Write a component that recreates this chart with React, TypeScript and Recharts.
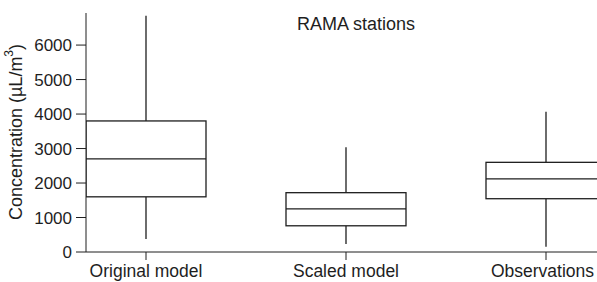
import { ComposedChart, Bar, XAxis, YAxis } from 'recharts';

// box plot stats (µL/m³)
const categories = ['Original model', 'Scaled model', 'Observations'];
const whiskerLow = [380, 230, 150];
const quartile1 = [1600, 760, 1545];
const medians = [2700, 1250, 2120];
const quartile3 = [3800, 1720, 2600];
const whiskerHigh = [6850, 3040, 4070];
const yTicks = [0, 1000, 2000, 3000, 4000, 5000, 6000];

const data = categories.map((name, i) => ({
  x: i,
  name,
  min: whiskerLow[i],
  q1: quartile1[i],
  median: medians[i],
  q3: quartile3[i],
  max: whiskerHigh[i],
}));

const INK = '#1e1e1e';
const FONT = '"Liberation Sans", Arial, sans-serif';

// draws one box + whiskers; pixel positions come from the bar's own min/max span
const BoxShape = (props: any) => {
  const { x, y, width, height, payload } = props;
  const { min, q1, median, q3, max } = payload;
  const k = height / (max - min);
  const toY = (v: number) => y + (max - v) * k;
  const cx = x + width / 2;
  return (
    <g stroke={INK} strokeWidth={1.3} fill="none">
      <line x1={cx} x2={cx} y1={toY(max)} y2={toY(q3)} />
      <line x1={cx} x2={cx} y1={toY(q1)} y2={toY(min)} />
      <rect x={x} y={toY(q3)} width={width} height={toY(q1) - toY(q3)} fill="#fff" />
      <line x1={x} x2={x + width} y1={toY(median)} y2={toY(median)} />
    </g>
  );
};

// category label; the last one is pulled in so it stays inside the frame
const CategoryTick = (props: any) => {
  const { x, y, payload, index } = props;
  const last = index === categories.length - 1;
  return (
    <text
      x={last ? 594 : x}
      y={y}
      dy="0.71em"
      textAnchor={last ? 'end' : 'middle'}
      fontSize={17.5}
      fontFamily={FONT}
      fill={INK}
    >
      {categories[payload.value]}
    </text>
  );
};

export default function App() {
  return (
    <div style={{ position: 'absolute', left: 0, top: 0, width: 597, height: 282, background: '#fff', fontFamily: FONT }}>
      <ComposedChart width={597} height={282} data={data} margin={{ top: 13, right: 0, bottom: 0, left: 0 }}>
        <XAxis
          dataKey="x"
          type="number"
          domain={[-0.3, 2.255]}
          ticks={[0, 1, 2]}
          allowDataOverflow
          height={30}
          tickSize={8}
          tickMargin={5}
          stroke={INK}
          tick={<CategoryTick />}
          interval={0}
        />
        <YAxis
          domain={[0, 6930]}
          ticks={yTicks}
          allowDataOverflow
          width={86}
          tickSize={10}
          tickMargin={4}
          stroke={INK}
          tick={{ fill: INK, fontSize: 17, fontFamily: FONT }}
          label={() => (
            <text
              x={16}
              y={132}
              transform="rotate(-90 16 132)"
              textAnchor="middle"
              dominantBaseline="central"
              fontSize={18}
              fontFamily={FONT}
              fill={INK}
            >
              Concentration (µL/m<tspan fontSize={12} dy={-7}>3</tspan><tspan dy={7}>)</tspan>
            </text>
          )}
        />
        <Bar
          dataKey={(d: any) => [d.min, d.max]}
          barSize={120}
          shape={<BoxShape />}
          isAnimationActive={false}
        />
        <text x={356} y={30} textAnchor="middle" fontSize={18} fontFamily={FONT} fill={INK}>
          RAMA stations
        </text>
      </ComposedChart>
    </div>
  );
}
